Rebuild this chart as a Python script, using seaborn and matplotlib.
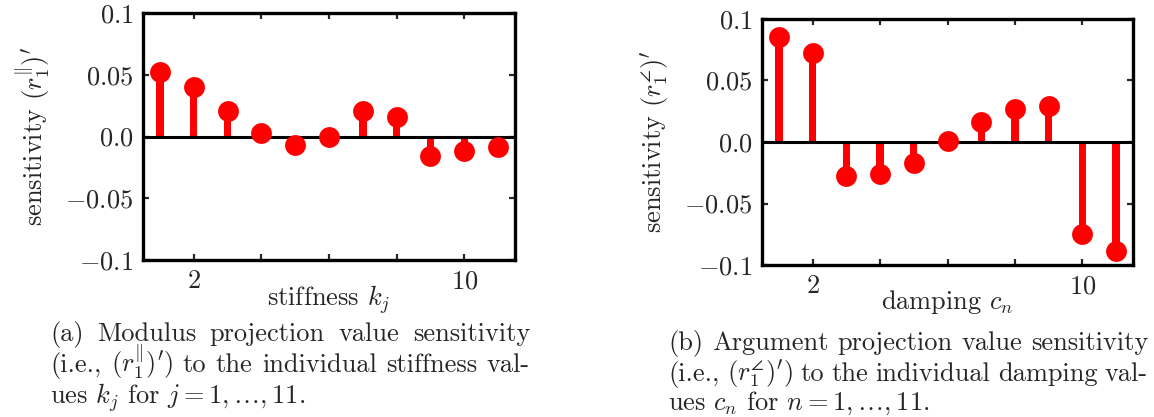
import numpy as np
import pandas as pd
import seaborn as sns
import matplotlib.pyplot as plt

#----------------------------------data
idx = list(range(1, 12))
stiff_sens = [0.052, 0.040, 0.021, 0.003, -0.007, 0.0, 0.021, 0.0156, -0.016, -0.012, -0.0086]
damp_sens = [0.085, 0.072, -0.028, -0.026, -0.017, 0.001, 0.016, 0.027, 0.029, -0.075, -0.089]
yticks = [-0.1, -0.05, 0.0, 0.05, 0.1]
ytick_labels = ["$-0.1$", "$-0.05$", "$0.0$", "$0.05$", "$0.1$"]
xticks = [2, 4, 6, 8, 10]
xtick_labels = ["$2$", "", "", "", "$10$"]

sns.set_style("ticks")
plt.rcParams["font.family"] = ["cmr10", "DejaVu Serif"]
plt.rcParams["mathtext.fontset"] = "cm"
plt.rcParams["axes.unicode_minus"] = False
plt.rcParams["axes.formatter.use_mathtext"] = True

W, H = 1154, 417
fig = plt.figure(figsize=(W/100, H/100), dpi=100)
ax1 = fig.add_axes([143/W, 1-260/H, 372/W, 247/H])
ax2 = fig.add_axes([762/W, 1-265/H, 371/W, 246/H])


def stem_panel(ax, vals, xlab, ylab):
    df = pd.DataFrame({"i": idx, "v": vals})
    # stems as thin bars, heads as scatter points
    sns.barplot(data=df, x="i", y="v", native_scale=True, width=0.22, color="#ff0000",
                saturation=1, errorbar=None, linewidth=0, ax=ax, zorder=2)
    ax.axhline(0, color="black", lw=2.2, zorder=3)
    sns.scatterplot(data=df, x="i", y="v", s=225, color="#ff0000", linewidth=0,
                    ax=ax, zorder=4, legend=False)
    ax.set_xlim(0.5, 11.5)
    ax.set_ylim(-0.1, 0.1)
    ax.set_xticks(xticks)
    ax.set_xticklabels(xtick_labels)
    ax.set_yticks(yticks)
    ax.set_yticklabels(ytick_labels)
    ax.tick_params(direction="in", top=True, right=True, length=4, width=1.6,
                   labelsize=19, pad=7)
    for sp in ax.spines.values():
        sp.set_linewidth(2.4)
        sp.set_color("black")
    ax.set_xlabel(xlab, fontsize=19)
    ax.set_ylabel(ylab, fontsize=19)
    ax.xaxis.set_label_coords(0.5, -0.095)
    ax.yaxis.set_label_coords(-0.245, 0.5)


stem_panel(ax1, stiff_sens, r"stiffness $k_j$", r"sensitivity $(r_1^{\Vert})^{\prime}$")
stem_panel(ax2, damp_sens, r"damping $c_n$", r"sensitivity $(r_1^{\angle})^{\prime}$")

# captions (justified like the latex subcaptions)
cap_a = [r"(a) Modulus projection value sensitivity",
         r"(i.e., $(r_1^{\Vert})^{\prime}$) to the individual stiffness val-",
         r"ues $k_j$ for $j = 1, \ldots, 11.$"]
cap_b = [r"(b) Argument projection value sensitivity",
         r"(i.e., $(r_1^{\angle})^{\prime}$) to the individual damping val-",
         r"ues $c_n$ for $n = 1, \ldots, 11.$"]
cap_size = 19
renderer = fig.canvas.get_renderer()


def justify_line(x0, x1, y, line):
    words = line.split(" ")
    texts = [fig.text(0, 1-y/H, w, fontsize=cap_size, va="baseline", ha="left") for w in words]
    widths = [t.get_window_extent(renderer).width for t in texts]
    gap = (x1 - x0 - sum(widths)) / (len(words) - 1)
    x = x0
    for t, w in zip(texts, widths):
        t.set_x(x/W)
        x += w + gap


def caption(x0, x1, ys, lines):
    justify_line(x0, x1, ys[0], lines[0])
    justify_line(x0, x1, ys[1], lines[1])
    fig.text(x0/W, 1-ys[2]/H, lines[2], fontsize=cap_size, va="baseline", ha="left")


caption(50, 530, [341, 372, 404], cap_a)
caption(668, 1148, [350, 381, 410], cap_b)

plt.savefig("out.png", dpi=100)
